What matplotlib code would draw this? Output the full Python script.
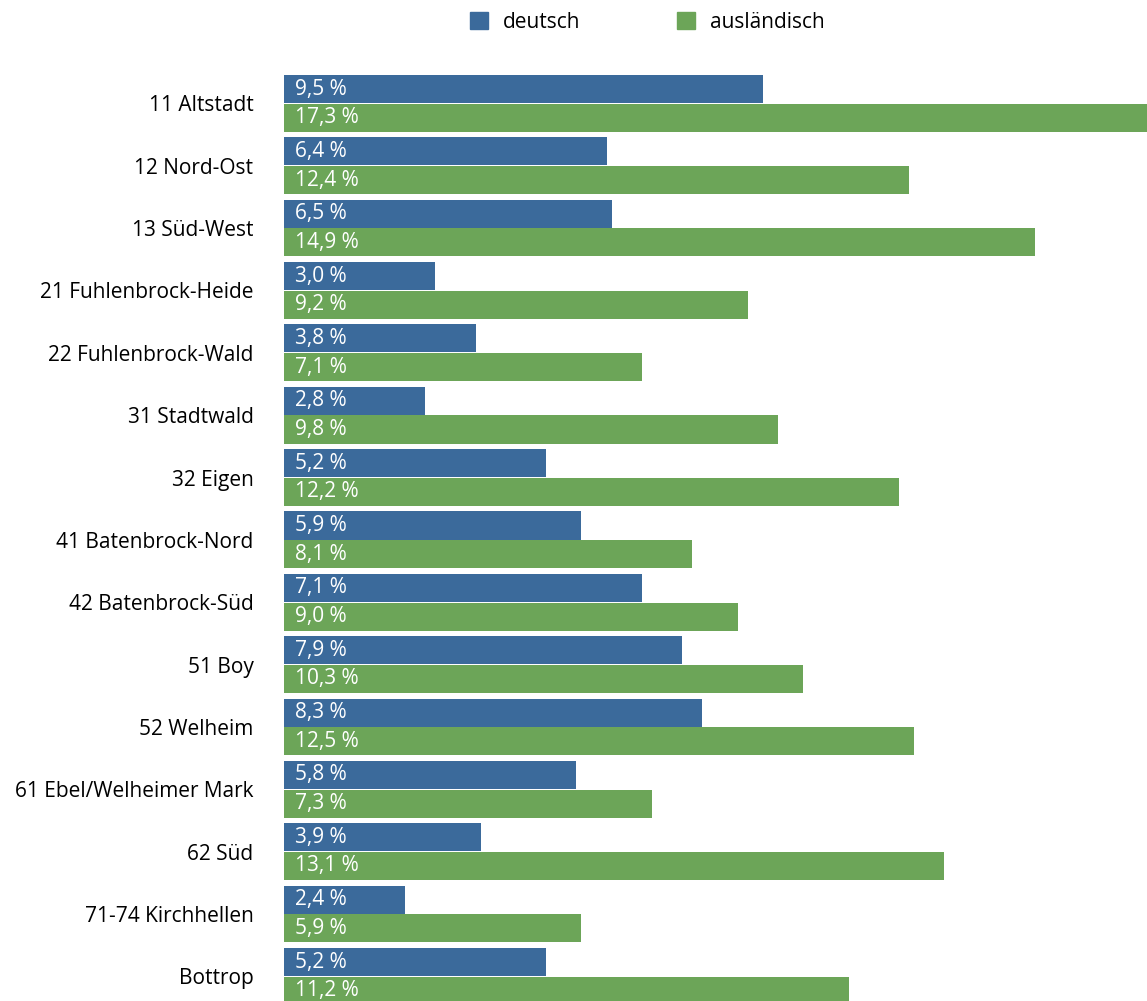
import matplotlib
matplotlib.use("Agg")
import matplotlib.pyplot as plt
from matplotlib.patches import Patch
import numpy as np

plt.rcParams['font.family'] = ['Open Sans', 'DejaVu Sans']

stadtteile = ["11 Altstadt", "12 Nord-Ost", "13 Süd-West", "21 Fuhlenbrock-Heide",
              "22 Fuhlenbrock-Wald", "31 Stadtwald", "32 Eigen", "41 Batenbrock-Nord",
              "42 Batenbrock-Süd", "51 Boy", "52 Welheim", "61 Ebel/Welheimer Mark",
              "62 Süd", "71-74 Kirchhellen", "Bottrop"]
deutsch = [9.5, 6.4, 6.5, 3.0, 3.8, 2.8, 5.2, 5.9, 7.1, 7.9, 8.3, 5.8, 3.9, 2.4, 5.2]
auslaendisch = [17.3, 12.4, 14.9, 9.2, 7.1, 9.8, 12.2, 8.1, 9.0, 10.3, 12.5, 7.3, 13.1, 5.9, 11.2]

blau = "#3B6A9B"
gruen = "#6CA558"

fig = plt.figure(figsize=(11.47, 10.01), dpi=100)
ax = fig.add_axes([284 / 1147, 0, 1 - 284 / 1147, 926 / 1001])

y = np.arange(len(stadtteile))
h = 0.45
off = h / 2 + 0.005
ax.barh(y - off, deutsch, height=h, color=blau)
ax.barh(y + off, auslaendisch, height=h, color=gruen)

for i in range(len(stadtteile)):
    ax.text(0.21, y[i] - off, f"{deutsch[i]:.1f} %".replace(".", ","),
            color="white", fontsize=15, va="center", ha="left")
    ax.text(0.21, y[i] + off, f"{auslaendisch[i]:.1f} %".replace(".", ","),
            color="white", fontsize=15, va="center", ha="left")

ax.set_xlim(0, 17.12)
ax.set_ylim(14.395, -0.455)
ax.set_yticks(y)
ax.set_yticklabels(stadtteile, fontsize=15)
ax.tick_params(axis="y", length=0, pad=22)
ax.set_xticks([])
for s in ax.spines.values():
    s.set_visible(False)

handles = [Patch(color=blau, label="deutsch"), Patch(color=gruen, label="ausländisch")]
fig.legend(handles=handles, loc="center left", bbox_to_anchor=(470 / 1147, 1 - 22 / 1001),
           ncol=2, frameon=False, fontsize=15, handlelength=0.84, handleheight=0.84,
           columnspacing=4.65, handletextpad=0.74, borderpad=0, borderaxespad=0)

fig.savefig("out.png", dpi=100)
